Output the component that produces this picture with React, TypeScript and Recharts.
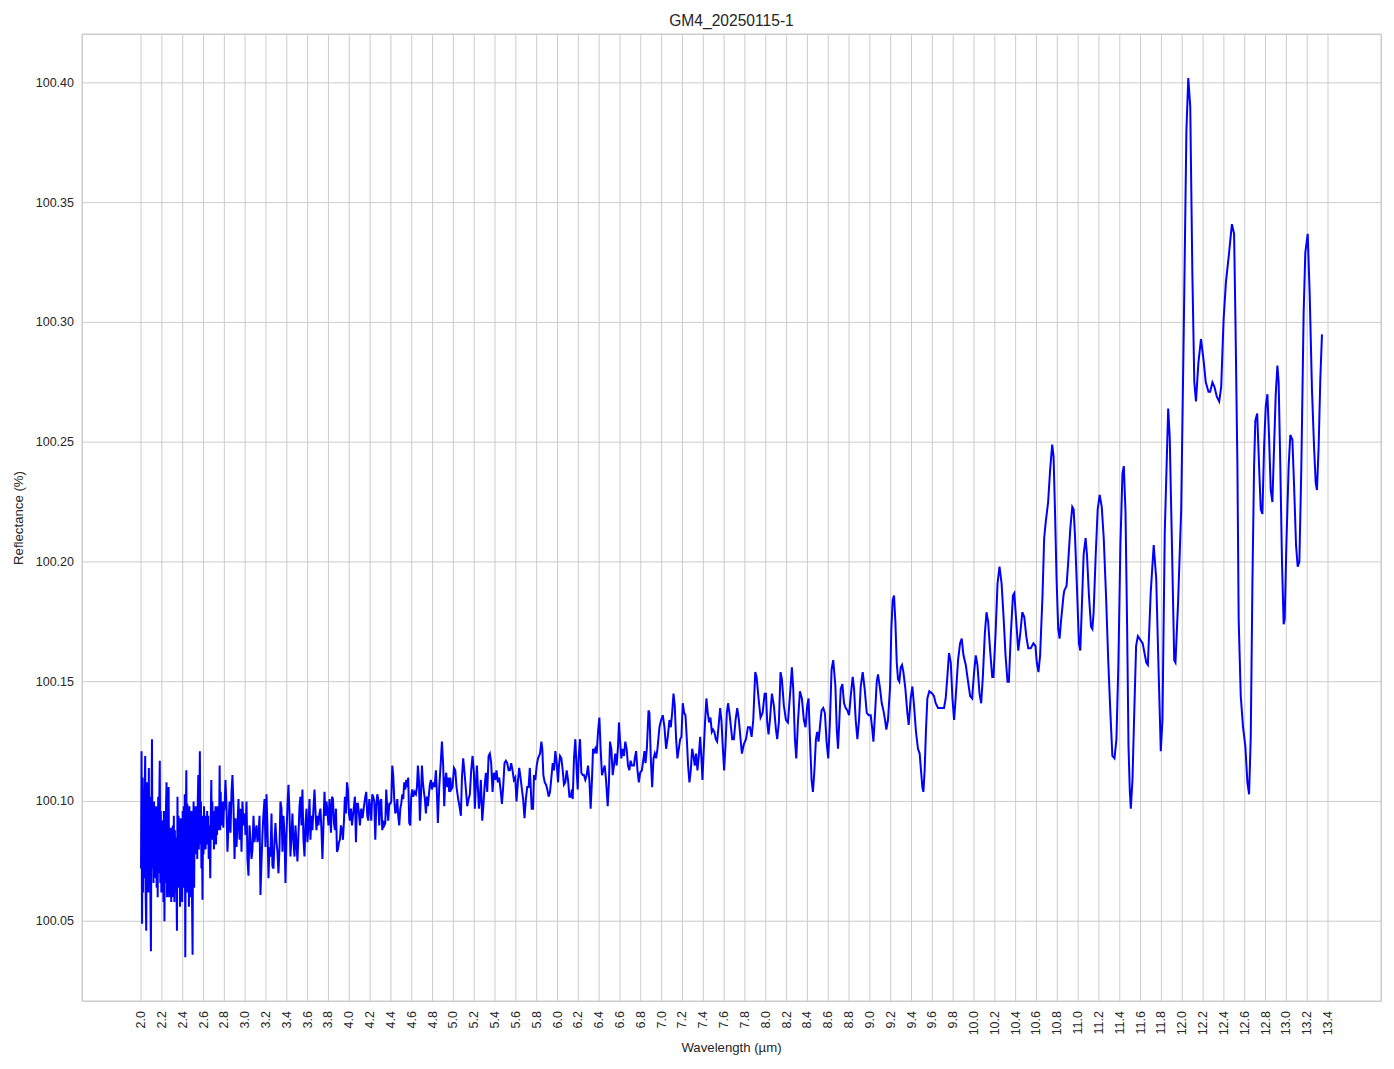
import React from 'react';
import { LineChart, Line, XAxis, YAxis, CartesianGrid } from 'recharts';

type Pt = [number, number];

// [wavelength µm, reflectance %]
const seg20to28: Pt[] = [
  [2.000,100.072],[2.005,100.121],[2.010,100.049],[2.015,100.110],[2.020,100.062],[2.025,100.098],[2.030,100.068],[2.035,100.104],
  [2.040,100.119],[2.045,100.060],[2.050,100.046],[2.055,100.108],[2.060,100.070],[2.065,100.096],[2.070,100.062],[2.075,100.114],
  [2.080,100.068],[2.085,100.102],[2.090,100.060],[2.095,100.0375],[2.100,100.094],[2.105,100.126],[2.110,100.072],[2.115,100.098],
  [2.120,100.066],[2.125,100.100],[2.130,100.068],[2.135,100.094],[2.140,100.070],[2.145,100.098],[2.150,100.064],[2.155,100.092],
  [2.160,100.060],[2.165,100.102],[2.170,100.070],[2.175,100.100],[2.180,100.117],[2.185,100.066],[2.190,100.096],[2.195,100.062],
  [2.200,100.090],[2.205,100.064],[2.210,100.092],[2.215,100.058],[2.220,100.096],[2.225,100.050],[2.230,100.094],[2.235,100.066],
  [2.240,100.098],[2.245,100.108],[2.250,100.060],[2.255,100.095],[2.260,100.062],[2.265,100.106],[2.270,100.060],[2.275,100.086],
  [2.280,100.064],[2.285,100.089],[2.290,100.058],[2.295,100.084],[2.300,100.062],[2.305,100.090],[2.310,100.060],[2.315,100.094],
  [2.320,100.058],[2.325,100.088],[2.330,100.062],[2.335,100.085],[2.340,100.066],[2.345,100.046],[2.350,100.102],[2.355,100.066],
  [2.360,100.094],[2.365,100.064],[2.370,100.088],[2.375,100.056],[2.380,100.093],[2.385,100.062],[2.390,100.086],[2.395,100.058],
  [2.400,100.096],[2.405,100.064],[2.410,100.098],[2.415,100.070],[2.420,100.103],[2.425,100.035],[2.430,100.092],[2.435,100.113],
  [2.440,100.062],[2.445,100.099],[2.450,100.066],[2.455,100.094],[2.460,100.056],[2.465,100.098],[2.470,100.060],[2.475,100.092],
  [2.480,100.068],[2.485,100.096],[2.490,100.058],[2.495,100.036],[2.500,100.088],[2.505,100.100],[2.510,100.064],[2.515,100.096],
  [2.520,100.078],[2.525,100.098],[2.530,100.080],[2.535,100.094],[2.540,100.076],[2.545,100.100],[2.550,100.111],[2.555,100.080],
  [2.560,100.098],[2.565,100.121],[2.570,100.082],[2.575,100.100],[2.580,100.072],[2.585,100.094],[2.590,100.059],[2.595,100.092],
  [2.600,100.078],[2.605,100.098],[2.610,100.082],[2.615,100.094],[2.620,100.080],[2.625,100.090],[2.630,100.084],[2.635,100.096],
  [2.640,100.082],[2.645,100.094],[2.650,100.076],[2.655,100.090],[2.660,100.080],[2.665,100.068],[2.670,100.094],[2.675,100.109],
  [2.680,100.084],[2.685,100.100],[2.690,100.086],[2.695,100.096],[2.700,100.080],[2.705,100.094],[2.710,100.086],[2.715,100.098],
  [2.720,100.082],[2.725,100.092],[2.730,100.086],[2.735,100.098],[2.740,100.088],[2.745,100.096],[2.750,100.090],[2.755,100.115],
  [2.760,100.088],[2.765,100.104],[2.770,100.090],[2.775,100.098],[2.780,100.092],[2.785,100.100],[2.790,100.089],[2.795,100.096],
];

const seg28to38: Pt[] = [
  [2.802,100.097],[2.811,100.109],[2.821,100.098],[2.83,100.079],[2.84,100.09],[2.85,100.1],[2.859,100.087],[2.869,100.104],
  [2.878,100.111],[2.888,100.098],[2.898,100.076],[2.907,100.093],[2.917,100.081],[2.926,100.09],[2.936,100.101],[2.946,100.084],
  [2.955,100.097],[2.965,100.079],[2.974,100.1],[2.984,100.09],[2.994,100.095],[3.003,100.086],[3.013,100.1],[3.022,100.076],
  [3.032,100.069],[3.042,100.09],[3.051,100.084],[3.061,100.076],[3.07,100.08],[3.08,100.094],[3.09,100.083],[3.099,100.087],
  [3.109,100.09],[3.118,100.083],[3.128,100.086],[3.138,100.094],[3.147,100.061],[3.157,100.075],[3.166,100.086],[3.176,100.095],
  [3.186,100.101],[3.195,100.081],[3.205,100.103],[3.214,100.09],[3.224,100.068],[3.234,100.081],[3.243,100.077],[3.253,100.095],
  [3.262,100.073],[3.272,100.072],[3.282,100.084],[3.291,100.091],[3.301,100.083],[3.31,100.079],[3.32,100.07],[3.33,100.081],
  [3.339,100.1],[3.349,100.097],[3.358,100.079],[3.368,100.094],[3.378,100.086],[3.387,100.066],[3.397,100.086],[3.406,100.098],
  [3.416,100.107],[3.426,100.095],[3.435,100.077],[3.445,100.086],[3.454,100.095],[3.464,100.083],[3.474,100.077],[3.483,100.09],
  [3.493,100.083],[3.502,100.075],[3.512,100.086],[3.522,100.098],[3.531,100.102],[3.541,100.09],[3.55,100.105],[3.56,100.084],
  [3.57,100.077],[3.579,100.09],[3.589,100.097],[3.598,100.083],[3.608,100.09],[3.618,100.101],[3.627,100.084],[3.637,100.094],
  [3.646,100.088],[3.656,100.097],[3.666,100.105],[3.675,100.096],[3.685,100.088],[3.694,100.094],[3.704,100.09],[3.714,100.095],
  [3.723,100.097],[3.733,100.088],[3.742,100.076],[3.752,100.09],[3.762,100.104],[3.771,100.094],[3.781,100.1],[3.79,100.096],
  [3.8,100.09],[3.81,100.101],
];

const seg38to48: Pt[] = [
  [3.824,100.087],[3.834,100.102],[3.843,100.101],[3.853,100.091],[3.862,100.088],[3.872,100.097],[3.882,100.079],[3.891,100.08],
  [3.901,100.083],[3.91,100.084],[3.92,100.09],[3.93,100.088],[3.939,100.084],[3.949,100.092],[3.958,100.102],[3.968,100.095],
  [3.978,100.108],[3.987,100.105],[3.997,100.095],[4.006,100.092],[4.016,100.097],[4.026,100.09],[4.035,100.094],[4.045,100.098],
  [4.054,100.102],[4.064,100.083],[4.074,100.099],[4.083,100.099],[4.093,100.095],[4.102,100.09],[4.115,100.097],[4.128,100.093],
  [4.141,100.098],[4.154,100.102],[4.163,100.104],[4.173,100.094],[4.182,100.092],[4.192,100.101],[4.202,100.097],[4.211,100.092],
  [4.221,100.103],[4.23,100.102],[4.24,100.1],[4.25,100.084],[4.259,100.098],[4.269,100.103],[4.278,100.101],[4.288,100.09],
  [4.298,100.1],[4.307,100.101],[4.317,100.088],[4.326,100.092],[4.336,100.09],[4.346,100.091],[4.355,100.105],[4.365,100.097],
  [4.374,100.092],[4.384,100.099],[4.394,100.099],[4.403,100.1],[4.413,100.115],[4.422,100.111],[4.432,100.101],[4.442,100.095],
  [4.451,100.096],[4.461,100.101],[4.47,100.094],[4.48,100.09],[4.49,100.097],[4.499,100.099],[4.509,100.103],[4.518,100.101],
  [4.528,100.108],[4.538,100.105],[4.547,100.109],[4.557,100.106],[4.566,100.11],[4.576,100.091],[4.586,100.09],[4.595,100.102],
  [4.605,100.105],[4.614,100.102],[4.627,100.104],[4.64,100.103],[4.65,100.106],[4.659,100.115],[4.669,100.109],[4.678,100.092],
  [4.688,100.102],[4.698,100.115],[4.707,100.108],[4.717,100.104],[4.726,100.101],[4.736,100.095],[4.746,100.102],[4.755,100.098],
  [4.765,100.103],[4.774,100.107],[4.784,100.109],[4.794,100.105],[4.806,100.108],
];

const seg48to58: Pt[] = [
  [4.819,100.106],[4.832,100.113],[4.842,100.103],[4.851,100.091],[4.864,100.106],[4.877,100.115],[4.89,100.125],[4.902,100.115],
  [4.912,100.098],[4.922,100.109],[4.931,100.112],[4.941,100.106],[4.95,100.11],[4.96,100.104],[4.97,100.11],[4.979,100.105],
  [4.992,100.106],[5.005,100.114],[5.018,100.113],[5.03,100.106],[5.046,100.101],[5.059,100.098],[5.072,100.094],[5.082,100.11],
  [5.094,100.118],[5.107,100.112],[5.12,100.105],[5.133,100.098],[5.146,100.101],[5.158,100.103],[5.171,100.113],[5.184,100.119],
  [5.197,100.112],[5.206,100.097],[5.216,100.107],[5.226,100.115],[5.235,100.106],[5.245,100.097],[5.254,100.101],[5.264,100.109],
  [5.277,100.092],[5.286,100.097],[5.299,100.106],[5.312,100.112],[5.325,100.104],[5.338,100.119],[5.35,100.12],[5.363,100.116],
  [5.376,100.104],[5.389,100.112],[5.402,100.109],[5.414,100.113],[5.427,100.108],[5.44,100.11],[5.453,100.105],[5.466,100.099],
  [5.478,100.106],[5.491,100.116],[5.504,100.117],[5.517,100.116],[5.53,100.113],[5.542,100.113],[5.555,100.116],[5.568,100.113],
  [5.581,100.109],[5.594,100.11],[5.606,100.1],[5.619,100.108],[5.632,100.114],[5.645,100.11],[5.658,100.105],[5.67,100.101],
  [5.683,100.093],[5.696,100.101],[5.709,100.106],[5.722,100.106],[5.734,100.114],
];

const seg58to67: Pt[] = [
  [5.752,100.097],[5.765,100.097],[5.774,100.111],[5.787,100.109],[5.8,100.115],[5.813,100.118],[5.832,100.12],[5.845,100.125],
  [5.854,100.122],[5.864,100.111],[5.877,100.108],[5.89,100.107],[5.902,100.105],[5.915,100.102],[5.928,100.104],[5.941,100.11],
  [5.954,100.116],[5.966,100.113],[5.979,100.121],[5.992,100.116],[6.005,100.108],[6.014,100.115],[6.024,100.119],[6.037,100.118],
  [6.05,100.113],[6.062,100.107],[6.075,100.108],[6.088,100.113],[6.101,100.109],[6.114,100.102],[6.126,100.102],[6.139,100.105],
  [6.146,100.101],[6.158,100.118],[6.171,100.126],[6.184,100.113],[6.194,100.105],[6.203,100.118],[6.216,100.126],[6.229,100.112],
  [6.242,100.111],[6.254,100.111],[6.267,100.109],[6.28,100.111],[6.293,100.115],[6.306,100.109],[6.318,100.097],[6.331,100.109],
  [6.341,100.122],[6.35,100.12],[6.363,100.122],[6.376,100.12],[6.389,100.129],[6.402,100.135],[6.414,100.122],[6.427,100.111],
  [6.44,100.113],[6.453,100.115],[6.466,100.109],[6.482,100.098],[6.494,100.108],[6.504,100.125],[6.517,100.122],[6.53,100.111],
  [6.542,100.115],[6.555,100.12],[6.568,100.115],[6.581,100.123],[6.59,100.133],[6.6,100.126],[6.613,100.118],[6.626,100.122],
  [6.638,100.119],[6.651,100.125],[6.664,100.122],[6.677,100.115],[6.69,100.113],[6.702,100.117],[6.715,100.115],[6.734,100.115],
];

const seg67to77: Pt[] = [
  [6.742,100.118],[6.755,100.121],[6.768,100.113],[6.781,100.108],[6.794,100.112],[6.81,100.113],[6.826,100.118],[6.835,100.121],
  [6.845,100.116],[6.858,100.122],[6.874,100.138],[6.883,100.137],[6.896,100.118],[6.909,100.106],[6.922,100.118],[6.934,100.12],
  [6.947,100.118],[6.96,100.122],[6.979,100.131],[6.995,100.134],[7.011,100.136],[7.027,100.131],[7.043,100.122],[7.059,100.127],
  [7.075,100.134],[7.088,100.131],[7.101,100.137],[7.114,100.145],[7.126,100.14],[7.139,100.126],[7.152,100.118],[7.165,100.122],
  [7.178,100.126],[7.19,100.127],[7.203,100.141],[7.216,100.137],[7.229,100.136],[7.242,100.126],[7.254,100.115],[7.267,100.108],
  [7.28,100.113],[7.293,100.122],[7.306,100.119],[7.318,100.115],[7.331,100.12],[7.344,100.113],[7.357,100.119],[7.37,100.127],
  [7.382,100.118],[7.392,100.109],[7.405,100.122],[7.418,100.134],[7.43,100.143],[7.443,100.137],[7.456,100.133],[7.469,100.135],
  [7.482,100.129],[7.494,100.13],[7.507,100.129],[7.52,100.126],[7.533,100.125],[7.546,100.131],[7.562,100.139],[7.574,100.134],
  [7.587,100.123],[7.6,100.113],[7.613,100.123],[7.626,100.137],[7.638,100.141],[7.651,100.137],
];

const seg77to87: Pt[] = [
  [7.678,100.126],[7.694,100.126],[7.71,100.134],[7.726,100.139],[7.742,100.134],[7.758,100.126],[7.771,100.12],[7.79,100.124],
  [7.81,100.126],[7.829,100.131],[7.848,100.131],[7.864,100.127],[7.88,100.134],[7.899,100.154],[7.912,100.152],[7.931,100.143],
  [7.95,100.135],[7.97,100.137],[7.989,100.145],[8.002,100.145],[8.014,100.133],[8.027,100.128],[8.04,100.134],[8.059,100.145],
  [8.078,100.14],[8.098,100.13],[8.11,100.126],[8.126,100.133],[8.142,100.154],[8.155,100.151],[8.174,100.14],[8.194,100.134],
  [8.213,100.133],[8.232,100.144],[8.251,100.156],[8.264,100.147],[8.28,100.126],[8.293,100.118],[8.309,100.133],[8.328,100.146],
  [8.347,100.143],[8.366,100.134],[8.382,100.131],[8.398,100.14],[8.411,100.143],[8.424,100.127],[8.44,100.109],[8.453,100.104],
  [8.466,100.112],[8.482,100.126],[8.494,100.129],[8.507,100.125],[8.52,100.131],[8.536,100.138],[8.552,100.139],[8.568,100.137],
  [8.584,100.125],[8.6,100.118],[8.616,100.133],[8.632,100.155],[8.648,100.159],
];

const seg87to96: Pt[] = [
  [8.669,100.148],[8.682,100.13],[8.694,100.122],[8.707,100.134],[8.72,100.147],[8.736,100.149],[8.752,100.141],[8.768,100.139],
  [8.784,100.138],[8.8,100.136],[8.816,100.144],[8.835,100.152],[8.848,100.147],[8.864,100.134],[8.88,100.126],[8.896,100.134],
  [8.912,100.148],[8.931,100.154],[8.95,100.147],[8.97,100.137],[8.989,100.136],[9.008,100.136],[9.021,100.131],[9.034,100.125],
  [9.05,100.137],[9.066,100.15],[9.078,100.153],[9.098,100.147],[9.114,100.141],[9.13,100.138],[9.146,100.134],[9.158,100.13],
  [9.174,100.134],[9.194,100.148],[9.206,100.172],[9.219,100.184],[9.232,100.186],[9.245,100.175],[9.258,100.158],[9.27,100.151],
  [9.283,100.15],[9.296,100.156],[9.309,100.157],[9.322,100.154],[9.341,100.147],[9.36,100.137],[9.373,100.132],[9.392,100.143],
  [9.408,100.148],[9.424,100.14],[9.443,100.129],[9.462,100.122],[9.478,100.12],[9.491,100.113],[9.504,100.106],[9.514,100.104],
  [9.526,100.113],[9.539,100.13],[9.552,100.143],[9.571,100.146],
];

const seg96to105: Pt[] = [
  [9.6,100.145],[9.616,100.144],[9.632,100.141],[9.655,100.139],[9.68,100.139],[9.712,100.139],[9.728,100.143],[9.744,100.152],
  [9.76,100.162],[9.777,100.158],[9.793,100.143],[9.809,100.134],[9.825,100.144],[9.847,100.159],[9.866,100.166],[9.882,100.168],
  [9.899,100.161],[9.921,100.157],[9.943,100.15],[9.963,100.144],[9.982,100.143],[10.001,100.154],[10.017,100.161],[10.033,100.157],
  [10.053,100.145],[10.069,100.141],[10.085,100.152],[10.104,100.17],[10.12,100.179],[10.136,100.175],[10.155,100.163],[10.175,100.152],
  [10.187,100.152],[10.207,100.17],[10.226,100.191],[10.245,100.198],[10.265,100.191],[10.284,100.177],[10.303,100.161],[10.322,100.15],
  [10.335,100.15],[10.354,100.17],[10.374,100.186],[10.387,100.187],[10.403,100.177],[10.425,100.163],[10.444,100.17],[10.464,100.179],
  [10.483,100.177],[10.502,100.169],[10.521,100.164],
];

const seg105to115: Pt[] = [
  [10.545,100.164],[10.571,100.166],[10.59,100.165],[10.603,100.158],[10.619,100.154],[10.635,100.161],[10.658,100.186],[10.674,100.21],
  [10.69,100.217],[10.712,100.225],[10.732,100.239],[10.751,100.249],[10.764,100.244],[10.777,100.223],[10.793,100.193],[10.809,100.172],
  [10.822,100.168],[10.835,100.175],[10.86,100.186],[10.867,100.188],[10.889,100.19],[10.905,100.2],[10.925,100.214],[10.944,100.223],
  [10.957,100.222],[10.97,100.211],[10.989,100.189],[11.008,100.166],[11.021,100.163],[11.034,100.179],[11.053,100.203],[11.072,100.21],
  [11.085,100.203],[11.104,100.186],[11.124,100.173],[11.137,100.172],[11.149,100.179],[11.169,100.203],[11.188,100.222],[11.207,100.228],
  [11.227,100.223],[11.246,100.21],[11.268,100.186],[11.29,100.158],[11.31,100.137],[11.329,100.119],[11.349,100.118],[11.368,100.126],
  [11.387,100.158],[11.406,100.207],[11.426,100.237],[11.439,100.24],[11.455,100.221],[11.471,100.172],[11.484,100.123],[11.496,100.105],
  [11.506,100.097],[11.522,100.109],[11.541,100.14],[11.557,100.165],
];

const seg115to125: Pt[] = [
  [11.574,100.169],[11.62,100.166],[11.655,100.158],[11.67,100.157],[11.697,100.187],[11.726,100.207],[11.75,100.193],[11.774,100.153],
  [11.794,100.121],[11.81,100.134],[11.832,100.212],[11.865,100.264],[11.88,100.252],[11.903,100.203],[11.923,100.159],[11.935,100.158],
  [11.96,100.183],[11.99,100.222],[12.016,100.301],[12.04,100.38],[12.058,100.402],[12.077,100.39],[12.097,100.321],[12.116,100.275],
  [12.132,100.267],[12.155,100.283],[12.18,100.293],[12.203,100.285],[12.226,100.275],[12.252,100.271],[12.268,100.271],[12.29,100.275],
  [12.31,100.273],[12.332,100.269],[12.355,100.267],[12.374,100.273],[12.397,100.301],[12.42,100.317],[12.445,100.327],[12.477,100.341],
];

const seg125to134: Pt[] = [
  [12.498,100.337],[12.51,100.304],[12.53,100.24],[12.542,100.176],[12.562,100.144],[12.584,100.131],[12.606,100.123],[12.626,100.108],
  [12.642,100.103],[12.658,100.127],[12.674,100.191],[12.69,100.24],[12.702,100.259],[12.72,100.262],[12.738,100.24],[12.754,100.222],
  [12.77,100.22],[12.786,100.248],[12.802,100.265],[12.818,100.27],[12.834,100.252],[12.85,100.23],[12.866,100.225],[12.882,100.248],
  [12.898,100.27],[12.914,100.282],[12.926,100.275],[12.942,100.24],[12.958,100.2],[12.974,100.174],[12.984,100.176],[13.0,100.207],
  [13.022,100.24],[13.038,100.253],[13.058,100.251],[13.074,100.232],[13.093,100.207],[13.109,100.198],[13.125,100.2],[13.144,100.24],
  [13.166,100.304],[13.182,100.329],[13.205,100.337],[13.224,100.312],[13.246,100.272],[13.266,100.248],[13.282,100.233],[13.294,100.23],
  [13.31,100.248],[13.326,100.276],[13.342,100.295],
];

const xTicks = [
  2.0, 2.2, 2.4, 2.6, 2.8, 3.0, 3.2, 3.4, 3.6, 3.8, 4.0, 4.2, 4.4, 4.6, 4.8, 5.0, 5.2, 5.4, 5.6, 5.8,
  6.0, 6.2, 6.4, 6.6, 6.8, 7.0, 7.2, 7.4, 7.6, 7.8, 8.0, 8.2, 8.4, 8.6, 8.8, 9.0, 9.2, 9.4, 9.6, 9.8,
  10.0, 10.2, 10.4, 10.6, 10.8, 11.0, 11.2, 11.4, 11.6, 11.8, 12.0, 12.2, 12.4, 12.6, 12.8, 13.0, 13.2, 13.4,
];
const yTicks = [100.05, 100.1, 100.15, 100.2, 100.25, 100.3, 100.35, 100.4];
const xDomain: [number, number] = [1.433, 13.909];
const yDomain: [number, number] = [100.0167, 100.4204];

const title = 'GM4_20250115-1';
const xLabel = 'Wavelength (µm)';
const yLabel = 'Reflectance (%)';

const data = [
  seg20to28, seg28to38, seg38to48, seg48to58, seg58to67, seg67to77,
  seg77to87, seg87to96, seg96to105, seg105to115, seg115to125, seg125to134,
].flat().map(([wavelength, reflectance]) => ({ wavelength, reflectance }));

const FONT = '"Liberation Sans", Arial, "DejaVu Sans", sans-serif';
const TEXT = '#262626';
const GRID = '#cccccc';

const W = 1394;
const H = 1069;
const LEFT = 82;
const TOP = 34;
const RIGHT = 1381;
const BOTTOM = 1001;

const XTick = (props: any) => {
  const { x, y, payload } = props;
  return (
    <text
      x={x}
      y={y}
      transform={`rotate(-90 ${x} ${y})`}
      textAnchor="end"
      dominantBaseline="central"
      fill={TEXT}
      fontSize={12.5}
      fontFamily={FONT}
    >
      {Number(payload.value).toFixed(1)}
    </text>
  );
};

const YTick = (props: any) => {
  const { x, y, payload } = props;
  return (
    <text x={x} y={y} textAnchor="end" dominantBaseline="central" fill={TEXT} fontSize={12.5} fontFamily={FONT}>
      {Number(payload.value).toFixed(2)}
    </text>
  );
};

export default function App() {
  return (
    <div style={{ position: 'relative', width: W, height: H, background: '#ffffff', fontFamily: FONT }}>
      <style>{'body{margin:0;background:#ffffff;}'}</style>
      <LineChart
        width={W}
        height={H}
        data={data}
        margin={{ top: TOP, right: W - RIGHT, bottom: 0, left: 0 }}
      >
        <CartesianGrid stroke={GRID} strokeWidth={1} />
        <XAxis
          dataKey="wavelength"
          type="number"
          domain={xDomain}
          ticks={xTicks}
          interval={0}
          allowDataOverflow
          height={H - BOTTOM}
          tickLine={false}
          tickSize={0}
          tickMargin={10}
          axisLine={false}
          tick={<XTick />}
        />
        <YAxis
          type="number"
          domain={yDomain}
          ticks={yTicks}
          interval={0}
          allowDataOverflow
          width={LEFT}
          tickLine={false}
          tickSize={0}
          tickMargin={8}
          axisLine={false}
          tick={<YTick />}
        />
        <Line
          type="linear"
          dataKey="reflectance"
          stroke="#0000ff"
          strokeWidth={2}
          dot={false}
          activeDot={false}
          isAnimationActive={false}
        />
      </LineChart>
      <div
        style={{
          position: 'absolute',
          left: LEFT,
          top: TOP,
          width: RIGHT - LEFT + 1,
          height: BOTTOM - TOP + 1,
          border: `1px solid ${GRID}`,
          boxSizing: 'border-box',
          pointerEvents: 'none',
        }}
      />
      <div
        style={{
          position: 'absolute',
          left: LEFT,
          width: RIGHT - LEFT,
          top: 11,
          lineHeight: '20px',
          textAlign: 'center',
          fontSize: 15.6,
          color: TEXT,
        }}
      >
        {title}
      </div>
      <div
        style={{
          position: 'absolute',
          left: LEFT,
          width: RIGHT - LEFT,
          top: 1038,
          lineHeight: '20px',
          textAlign: 'center',
          fontSize: 13.2,
          color: TEXT,
        }}
      >
        {xLabel}
      </div>
      <div
        style={{
          position: 'absolute',
          left: 19,
          top: (TOP + BOTTOM) / 2,
          transform: 'translate(-50%, -50%) rotate(-90deg)',
          whiteSpace: 'nowrap',
          lineHeight: '20px',
          fontSize: 13.2,
          color: TEXT,
        }}
      >
        {yLabel}
      </div>
    </div>
  );
}
